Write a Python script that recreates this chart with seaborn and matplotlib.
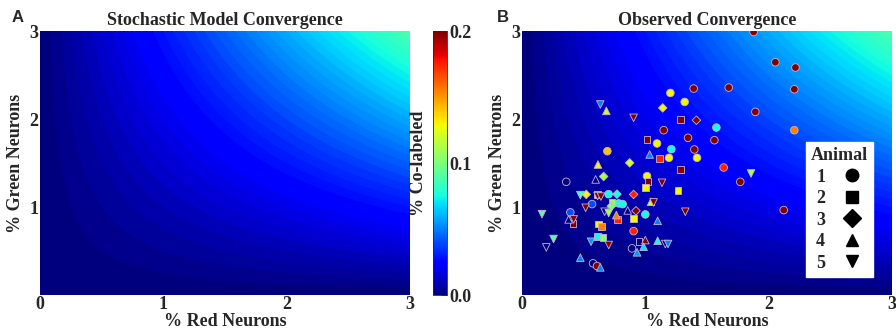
import numpy as np
import pandas as pd
import matplotlib
matplotlib.use("Agg")
import matplotlib.pyplot as plt
from matplotlib.lines import Line2D
from matplotlib.colors import Normalize
from matplotlib.cm import ScalarMappable
import seaborn as sns

# ---------------- data ----------------
animal_ids = [1, 2, 3, 4, 5]
animal_markers = ["o", "s", "D", "^", "v"]
marker_sizes = [30, 24, 19, 30, 30]

# Animal 1 (circles)
a1_red = [1.878, 2.054, 2.217, 2.208, 1.892, 1.676, 1.392, 1.203, 1.319, 2.208, 1.576, 1.149,
          1.346, 1.560, 1.397, 1.095, 1.211, 1.192, 1.419, 1.635, 1.770, 2.122, 0.692, 1.014,
          0.359, 0.568, 0.392, 0.702, 0.784, 0.816, 1.000, 0.905, 0.892, 0.576, 0.608]
a1_green = [2.989, 2.645, 2.585, 2.338, 2.081, 2.357, 2.346, 2.296, 2.194, 1.873, 1.903, 1.873,
            1.786, 1.759, 1.654, 1.722, 1.657, 1.559, 1.559, 1.449, 1.286, 0.965, 1.634, 1.351,
            1.286, 1.033, 0.939, 1.146, 1.041, 1.033, 0.916, 0.726, 0.530, 0.360, 0.329]
a1_col = [0.20, 0.20, 0.20, 0.20, 0.20, 0.20, 0.20, 0.13, 0.13, 0.155, 0.075, 0.20,
          0.20, 0.20, 0.20, 0.13, 0.075, 0.13, 0.13, 0.175, 0.20, 0.20, 0.14, 0.13,
          0.0, 0.04, 0.04, 0.075, 0.075, 0.075, 0.075, 0.175, 0.0, 0.0, 0.20]

# Animal 2 (squares)
a2_red = [1.284, 1.014, 1.114, 1.284, 1.022, 1.000, 1.265, 0.730, 0.612, 0.905, 0.775,
          0.621, 0.643, 0.610, 0.657, 0.949, 0.414]
a2_green = [1.994, 1.767, 1.552, 1.430, 1.286, 1.222, 1.184, 1.048, 1.146, 0.871, 0.859,
            0.806, 0.775, 0.665, 0.655, 0.605, 0.814]
a2_col = [0.20, 0.20, 0.175, 0.20, 0.20, 0.13, 0.13, 0.11, 0.13, 0.13, 0.175,
          0.13, 0.155, 0.075, 0.10, 0.0, 0.20]

# Animal 3 (diamonds)
a3_red = [1.141, 1.414, 0.873, 0.662, 0.521, 0.770, 0.905, 0.924, 0.724]
a3_green = [2.126, 1.986, 1.502, 1.347, 1.143, 1.146, 1.143, 0.957, 1.010]
a3_col = [0.13, 0.20, 0.12, 0.11, 0.13, 0.075, 0.175, 0.20, 0.10]

# Animal 4 (up triangles)
a4_red = [0.684, 0.616, 1.035, 0.597, 0.378, 0.857, 0.765, 1.046, 1.100, 1.000, 1.100,
          0.986, 0.933, 0.473, 0.635]
a4_green = [2.092, 1.483, 1.597, 1.313, 0.859, 0.961, 0.908, 1.059, 0.843, 0.624, 0.616,
            0.548, 0.485, 0.424, 0.314]
a4_col = [0.12, 0.13, 0.05, 0.0, 0.0, 0.0, 0.155, 0.12, 0.05, 0.20, 0.075,
          0.07, 0.055, 0.05, 0.05]

# Animal 5 (down triangles)
a5_red = [0.635, 0.905, 1.135, 1.857, 0.473, 0.613, 0.640, 0.516, 1.067, 1.324, 0.162,
          0.419, 0.670, 0.703, 0.256, 0.197, 0.560, 0.703, 1.162, 1.184]
a5_green = [2.165, 2.013, 1.275, 1.381, 1.135, 1.124, 1.118, 0.991, 1.052, 0.946, 0.919,
            0.859, 0.946, 0.931, 0.636, 0.541, 0.605, 0.568, 0.579, 0.579]
a5_col = [0.05, 0.20, 0.20, 0.11, 0.09, 0.20, 0.20, 0.20, 0.20, 0.20, 0.09,
          0.20, 0.0, 0.11, 0.09, 0.0, 0.055, 0.20, 0.0, 0.05]

cbar_ticks = [0.0, 0.1, 0.2]
axis_ticks = [0, 1, 2, 3]

reds = [a1_red, a2_red, a3_red, a4_red, a5_red]
greens = [a1_green, a2_green, a3_green, a4_green, a5_green]
cols = [a1_col, a2_col, a3_col, a4_col, a5_col]
df = pd.concat([
    pd.DataFrame({"red": r, "green": g, "colab": c, "animal": a})
    for r, g, c, a in zip(reds, greens, cols, animal_ids)
], ignore_index=True)

# ---------------- style ----------------
sns.set_theme(style="white")
plt.rcParams["font.family"] = ["Liberation Serif", "DejaVu Serif"]
plt.rcParams["font.weight"] = "bold"
plt.rcParams["axes.labelweight"] = "bold"
plt.rcParams["axes.titleweight"] = "bold"

W, H = 896, 333
fig = plt.figure(figsize=(W / 100, H / 100), dpi=100)

def fax(x0, y0, x1, y1):
    return fig.add_axes([x0 / W, 1 - y1 / H, (x1 - x0) / W, (y1 - y0) / H])

axA = fax(40, 31, 410, 295)
cax = fax(433, 31, 447, 295)
axB = fax(522, 31, 892, 295)

norm = Normalize(0, 0.2)
cmap = matplotlib.colormaps["jet"]

# model surface (stochastic model: product of fractions), slightly banded
gx = np.linspace(0, 3, 600)
GX, GY = np.meshgrid(gx, gx)
step = 0.2 / 80
GZ = np.floor(GX * GY / 100.0 / step) * step

def style_axes(ax):
    ax.set_xlim(0, 3)
    ax.set_ylim(0, 3)
    ax.set_aspect("auto")
    ax.set_xticks(axis_ticks)
    ax.set_yticks(axis_ticks[1:])
    ax.tick_params(length=0, labelsize=13, pad=1)
    for lab in ax.get_xticklabels() + ax.get_yticklabels():
        lab.set_fontweight("bold")
    ax.set_xlabel("% Red Neurons", fontsize=13, labelpad=0)
    ax.set_ylabel("% Green Neurons", fontsize=13, labelpad=4)
    for s in ax.spines.values():
        s.set_visible(False)

for ax in (axA, axB):
    ax.imshow(GZ, origin="lower", extent=(0, 3, 0, 3), cmap=cmap, norm=norm,
              aspect="auto", interpolation="bilinear")

axA.set_title("Stochastic Model Convergence", fontsize=13, pad=4)
axB.set_title("Observed Convergence", fontsize=13, pad=4)

# scatter of observed data, one call per animal
for a, m, sz in zip(animal_ids, animal_markers, marker_sizes):
    sub = df[df["animal"] == a]
    sns.scatterplot(data=sub, x="red", y="green", hue="colab", palette=cmap,
                    hue_norm=norm, marker=m, s=sz, edgecolor="#c9b2d6",
                    linewidth=0.6, legend=False, ax=axB, zorder=3)

for ax in (axA, axB):
    style_axes(ax)

# colorbar
sm = ScalarMappable(norm=norm, cmap=cmap)
cb = fig.colorbar(sm, cax=cax, ticks=cbar_ticks)
cb.ax.set_yticklabels([f"{t:.1f}" for t in cbar_ticks], fontsize=13, fontweight="bold")
cb.ax.yaxis.set_minor_locator(matplotlib.ticker.MultipleLocator(0.025))
cb.ax.tick_params(which="both", direction="in", length=4, width=0.6, color="#333333", pad=2)
cb.outline.set_linewidth(0.6)
cb.ax.yaxis.set_label_position("left")
cb.set_label("% Co-labeled", fontsize=13, fontweight="bold", labelpad=4)

# legend for animals
handles = [Line2D([0], [0], marker=m, color="black", linestyle="none", markersize=9)
           for m in animal_markers]
leg = axB.legend(handles, [str(a) for a in animal_ids], title="Animal",
                 loc="lower right", bbox_to_anchor=(0.95, 0.068), borderaxespad=0,
                 markerfirst=False, frameon=True, fancybox=False, framealpha=1,
                 edgecolor="white", fontsize=13, title_fontsize=13, handletextpad=0.9,
                 labelspacing=0.25, borderpad=0.3, handlelength=1.2)
leg.get_title().set_fontweight("bold")
for t in leg.get_texts():
    t.set_fontweight("bold")

# panel letters
fig.text(12 / W, 1 - 18 / H, "A", fontsize=12, fontweight="bold",
         family=["Liberation Sans", "DejaVu Sans"], va="center")
fig.text(497 / W, 1 - 18 / H, "B", fontsize=12, fontweight="bold",
         family=["Liberation Sans", "DejaVu Sans"], va="center")

fig.savefig("out.png", dpi=100)
